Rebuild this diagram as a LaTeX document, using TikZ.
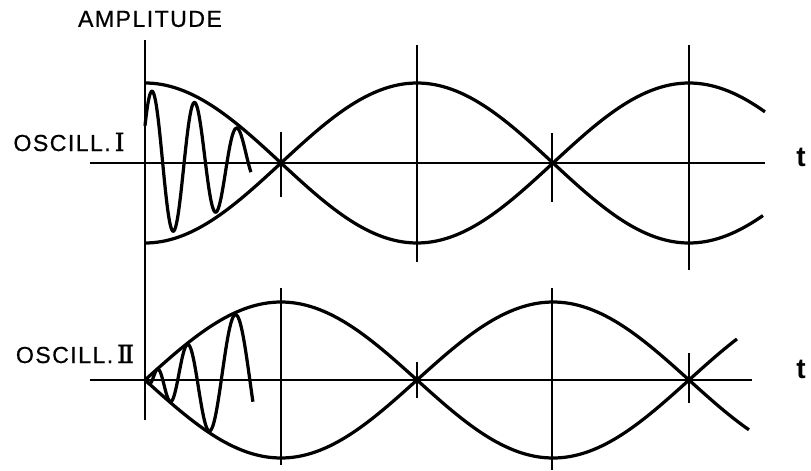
\documentclass[tikz,border=0pt]{standalone}
\usepackage{fontspec}
\setmainfont{Liberation Sans}
\newfontfamily\romfont[FakeBold=1.5, Scale=1.08]{DejaVu Serif}
\usetikzlibrary{positioning}

\tikzset{
  axisline/.style={line width=1.1pt},
  envcurve/.style={line width=2.3pt, smooth, samples=150, variable=\x},
  lettering/.style={font=\fontsize{16.5}{19}\selectfont\addfontfeature{LetterSpace=6, FakeBold=0.6}, inner sep=0pt},
  tlabel/.style={font=\fontsize{20}{22}\selectfont\bfseries, inner sep=0pt},
}

\begin{document}
\begin{tikzpicture}
    \useasboundingbox (-3.625,-7.675) rectangle (16.65,4.075);
    %disegno asse verticale
    \coordinate (vtop) at (0,3.075);
    \coordinate (vbot) at (0,-6.425);
    \draw[axisline] (vtop) -- (vbot);
    \node[lettering] (amp) at (0.125,3.6) {AMPLITUDE};
    %disegno oscillatore I
    \coordinate (aI) at (-1.375,0);
    \coordinate (bI) at (15.5,0);
    \draw[axisline] (aI) -- (bI);
    \node[tlabel] (tI) at (16.4,0.15) {t};
    \node[lettering] (oscI) at (-1.9,0.525) {OSCILL.\,{\romfont Ⅰ}};
    \foreach \x/\a/\b in {3.4/0.775/-0.85, 6.8/2.95/-2.475, 10.175/0.75/-0.975, 13.6/2.95/-2.675}
        \draw[axisline] (\x,\a) -- (\x,\b);
    \draw[envcurve, domain=0:15.5]  plot ({\x},{2*cos(360*\x/13.6)});
    \draw[envcurve, domain=0:15.45] plot ({\x},{-2*cos(360*\x/13.6)});
    \draw[envcurve, domain=0:2.65, samples=200]
        plot ({\x},{1.8*cos(360*\x/13.6)*cos(360*(\x-0.175)/1.07)});
    %disegno oscillatore II
    \begin{scope}[yshift=-5.425cm]
        \coordinate (aII) at (-1.375,0);
        \coordinate (bII) at (15.175,0);
        \draw[axisline] (aII) -- (bII);
        \node[tlabel] (tII) at (16.4,0.275) {t};
        \node[lettering] (oscII) at (-1.75,0.65) {OSCILL.\,{\romfont Ⅱ}};
        \foreach \x/\a/\b in {3.4/2.3/-2.125, 6.8/0.45/-0.45, 10.175/2.3/-2.25, 13.6/0.675/-0.575}
            \draw[axisline] (\x,\a) -- (\x,\b);
        \draw[envcurve, domain=0:14.8] plot ({\x},{1.95*sin(360*\x/13.6)});
        \draw[envcurve, domain=0:15.1] plot ({\x},{-1.95*sin(360*\x/13.6)});
        \draw[envcurve, domain=0:2.7, samples=250]
            plot ({\x},{1.89*sin(360*\x/13.6)*sin(180*(4.2*sqrt(\x)-1.8))});
    \end{scope}
\end{tikzpicture}
\end{document}
